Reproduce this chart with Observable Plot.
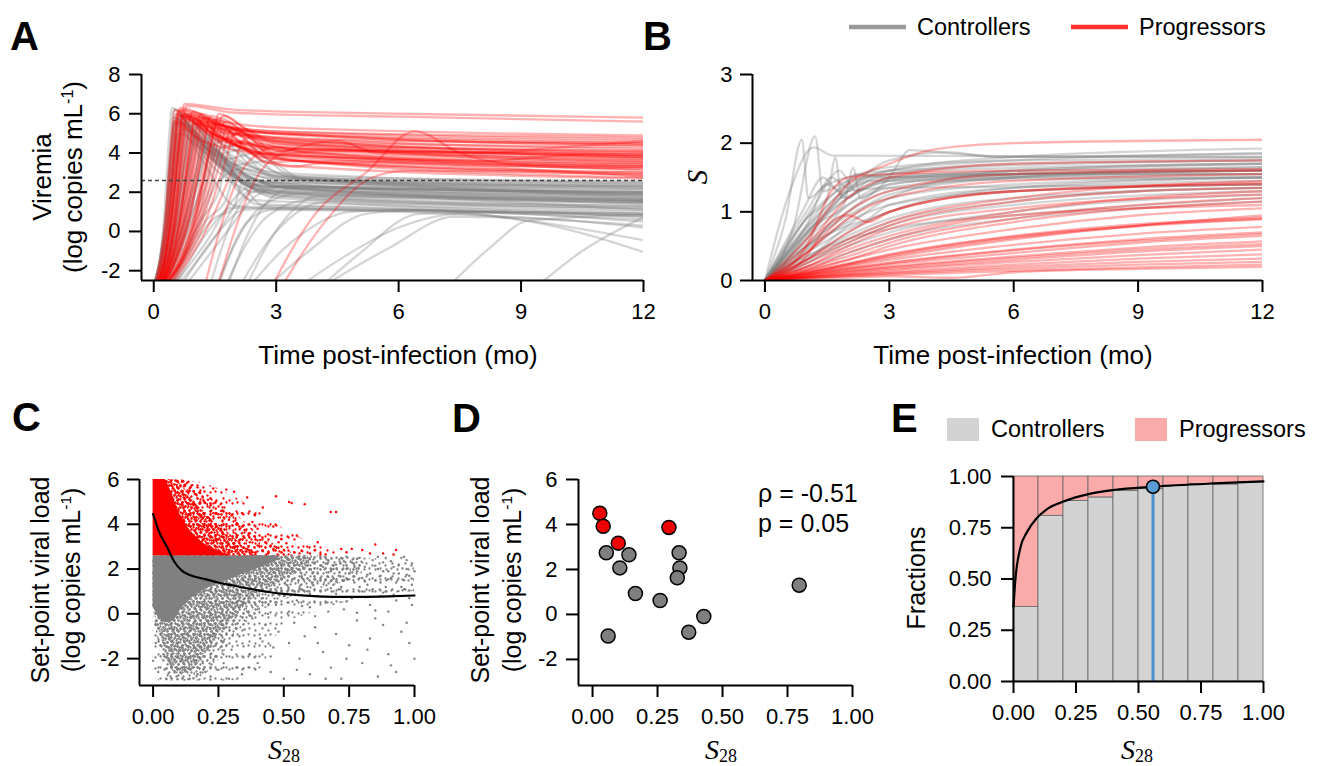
<!DOCTYPE html>
<html><head><meta charset="utf-8">
<script src="https://cdn.jsdelivr.net/npm/d3@7"></script>
<script src="https://cdn.jsdelivr.net/npm/@observablehq/plot@0.6"></script>
<style>
body{margin:0;background:#fff;}
#root{position:relative;width:1325px;height:766px;overflow:hidden;background:#fff;}
.panel{position:absolute;}
</style></head><body><div id="root"></div>
<script>
// ---------------- DATA ----------------
const timeTicks = [0, 3, 6, 9, 12];
const viremiaTicks = [-2, 0, 2, 4, 6, 8];
const sTicks = [0, 1, 2, 3];
const s28Ticks = [0, 0.25, 0.5, 0.75, 1];
const spvlTicks = [-2, 0, 2, 4, 6];
const fracTicks = [0, 0.25, 0.5, 0.75, 1];
const threshold = 2.6;

// Panel A: viremia trajectories, knots "time value"
const viremiaProgressors = [
"0.15 -2.7, 0.48 0.6, 0.66 5.1, 0.75 6.5, 2 6.2, 6 6.0, 12 5.8",
"0.2 -2.7, 0.53 0.6, 0.71 5.0, 0.8 6.4, 2 6.05, 6 5.85, 12 5.6",
"0.1 -2.7, 0.4 0.6, 0.57 4.9, 0.65 6.3, 1.5 5.7, 3 5.3, 12 4.9",
"0.1 -2.7, 0.38 0.6, 0.53 4.8, 0.6 6.2, 1.5 5.5, 3 5.1, 12 4.7",
"0.05 -2.7, 0.33 0.6, 0.48 4.6, 0.55 6.0, 1.4 5.3, 3 5.0, 12 4.6",
"0.15 -2.7, 0.54 0.6, 0.75 4.6, 0.85 6.0, 1.7 5.4, 3 5.0, 12 4.5",
"0.15 -2.7, 0.56 0.6, 0.79 4.5, 0.9 5.9, 2 5.2, 4 4.9, 12 4.4",
"0.2 -2.7, 0.64 0.6, 0.88 4.4, 1.0 5.8, 2 5.0, 4 4.7, 12 4.2",
"0.1 -2.7, 0.43 0.6, 0.61 4.5, 0.7 5.9, 1.6 5.1, 3 4.7, 12 4.0",
"0.2 -2.7, 0.75 0.6, 1.05 4.4, 1.2 5.8, 2.2 5.0, 4 4.6, 12 3.9",
"0.25 -2.7, 0.88 0.6, 1.23 4.5, 1.4 5.9, 2 5.2, 3 4.6, 12 3.8",
"0.3 -2.7, 1.02 0.6, 1.41 4.6, 1.6 6.0, 2.2 5.3, 2.8 4.7, 4 4.4, 12 3.6",
"0.3 -2.7, 1.07 0.6, 1.49 4.5, 1.7 5.9, 2.4 5.0, 3 4.5, 12 3.5",
"0.05 -2.7, 0.35 0.6, 0.52 4.7, 0.6 6.1, 1.3 5.0, 2.5 4.2, 12 3.4",
"0.1 -2.7, 0.46 0.6, 0.65 4.6, 0.75 6.0, 1.6 4.8, 2.8 4.0, 12 3.3",
"0.2 -2.7, 0.7 0.6, 0.97 4.2, 1.1 5.6, 1.8 4.6, 3 3.9, 12 3.2",
"0.25 -2.7, 0.83 0.6, 1.14 4.1, 1.3 5.5, 2 4.4, 2.6 3.8, 3.5 3.6, 12 3.0",
"0.35 -2.7, 1.15 0.6, 1.58 3.9, 1.8 5.3, 2.6 4.0, 3.5 3.6, 12 2.9",
"0.4 -2.7, 1.28 0.6, 1.76 3.6, 2.0 5.0, 2.7 3.8, 3.4 3.3, 4.2 3.5, 12 2.8",
"0.3 -2.7, 0.96 0.6, 1.32 4.3, 1.5 5.7, 2.1 4.6, 2.8 3.5, 3.5 3.6, 12 3.1",
"0.2 -2.7, 0.64 0.6, 0.88 4.4, 1.0 5.8, 1.6 4.6, 2.2 5.1, 2.8 4.0, 3.5 4.2, 12 3.7",
"0.25 -2.7, 0.77 0.6, 1.06 4.3, 1.2 5.7, 1.8 4.3, 2.4 4.8, 3.0 3.9, 4 4.1, 12 4.0",
"1.1 -4, 2.3 3.5, 3.0 4.3, 3.8 4.0, 12 3.6",
"1.4 -4, 2.6 3.0, 3.4 4.2, 4.5 4.6, 5.5 4.0, 12 3.8",
"2.6 -4, 4.0 1.0, 5.2 3.0, 6.4 5.1, 7.5 4.0, 9 3.4, 12 3.3",
"2.8 -4, 4.2 0.5, 5.3 2.7, 6.2 3.1, 12 2.9",
"0.1 -2.7, 0.38 0.6, 0.53 4.5, 0.6 5.9, 1.4 5.0, 3 4.4, 12 4.1",
"0.15 -2.7, 0.51 0.6, 0.7 4.3, 0.8 5.7, 1.5 4.9, 3 4.3, 12 3.9",
"0.1 -2.7, 0.43 0.6, 0.61 4.4, 0.7 5.8, 1.7 4.7, 3 4.2, 12 3.7",
"0.15 -2.7, 0.59 0.6, 0.83 4.7, 0.95 6.1, 1.8 5.1, 3 4.6, 12 4.3",
"0.3 -2.7, 1.02 0.6, 1.41 4.4, 1.6 5.8, 2.3 4.9, 3 4.5, 12 4.1",
"0.05 -2.7, 0.3 0.6, 0.43 4.2, 0.5 5.6, 1.2 4.6, 3 3.9, 12 3.4",
"0.2 -2.7, 0.64 0.6, 0.88 4.1, 1.0 5.5, 2.0 4.4, 3 3.8, 12 3.2",
"0.25 -2.7, 0.86 0.6, 1.19 4.0, 1.35 5.4, 2.2 4.2, 3 3.7, 12 3.0",
"0.2 -2.7, 0.72 0.6, 1.01 4.6, 1.15 6.0, 2.0 5.0, 3.5 4.7, 12 4.5",
"0.1 -2.7, 0.43 0.6, 0.61 4.8, 0.7 6.2, 1.8 5.3, 3.5 4.9, 12 4.4",
"0.3 -2.7, 1.1 0.6, 1.53 4.2, 1.75 5.6, 2.5 4.6, 3.5 4.2, 12 3.9",
"0.2 -2.7, 0.67 0.6, 0.92 4.3, 1.05 5.7, 1.9 4.5, 3 3.9, 12 3.5",
"0.35 -2.7, 1.2 0.6, 1.67 3.8, 1.9 5.2, 2.7 4.3, 3.8 3.9, 12 3.3",
"0.02 -2.7, 0.28 0.6, 0.43 4.8, 0.5 6.2, 1.2 5.6, 3 5.1, 12 4.8",
"0.45 -2.7, 1.41 0.6, 1.94 3.2, 2.2 4.6, 3.0 3.8, 4 3.5, 12 2.75",
"0.3 -2.7, 0.99 0.6, 1.36 4.1, 1.55 5.5, 2.3 4.1, 3 3.4, 12 2.7",
"0.15 -2.7, 0.51 0.6, 0.7 4.5, 0.8 5.9, 1.6 4.8, 3 4.3, 8 4.0, 10 4.3, 12 4.6",
"0.25 -2.7, 0.8 0.6, 1.1 4.2, 1.25 5.6, 2.2 4.5, 4 4.0, 8 3.6, 10.5 3.9, 12 3.8"
];
const viremiaControllers = [
"0 -2.7, 0.25 0.6, 0.38 4.9, 0.45 6.3, 1.0 5.0, 2 3.6, 3 3.0, 12 2.45",
"0 -2.7, 0.28 0.6, 0.43 4.8, 0.5 6.2, 1.1 4.7, 2 3.2, 3 2.7, 12 2.3",
"0.02 -2.7, 0.31 0.6, 0.47 4.6, 0.55 6.0, 1.2 4.4, 2.2 2.9, 3 2.5, 12 2.15",
"0 -2.7, 0.28 0.6, 0.43 4.4, 0.5 5.8, 1.3 3.9, 2.5 2.4, 3 2.3, 12 2.0",
"0.05 -2.7, 0.35 0.6, 0.52 4.2, 0.6 5.6, 1.4 3.7, 2.5 2.2, 3 2.1, 12 1.85",
"0.05 -2.7, 0.38 0.6, 0.56 4.5, 0.65 5.9, 1.4 4.6, 2.4 3.3, 3.2 2.7, 12 2.25",
"0.08 -2.7, 0.42 0.6, 0.61 4.1, 0.7 5.5, 1.5 3.6, 2.6 2.1, 3 2.0, 12 1.7",
"0.1 -2.7, 0.49 0.6, 0.7 4.0, 0.8 5.4, 1.6 3.4, 2.8 2.0, 12 1.55",
"0.1 -2.7, 0.54 0.6, 0.78 3.8, 0.9 5.2, 1.7 3.3, 3 1.9, 12 1.45",
"0.12 -2.7, 0.6 0.6, 0.87 3.6, 1.0 5.0, 1.8 3.1, 3 1.8, 12 1.3",
"0.15 -2.7, 0.67 0.6, 0.96 3.4, 1.1 4.8, 2.0 2.9, 3.2 1.8, 12 1.2",
"0.2 -2.7, 0.75 0.6, 1.05 3.2, 1.2 4.6, 2.1 2.7, 3.3 2.0, 12 1.6",
"0.25 -2.7, 0.83 0.6, 1.14 3.0, 1.3 4.4, 2.2 2.8, 3.5 2.3, 12 2.0",
"0.03 -2.7, 0.32 0.6, 0.47 4.3, 0.55 5.7, 1.2 4.2, 1.7 4.6, 2.3 3.5, 3.0 2.8, 12 2.35",
"0.05 -2.7, 0.35 0.6, 0.52 4.4, 0.6 5.8, 1.3 4.0, 1.9 4.4, 2.6 3.2, 3.5 2.7, 12 2.5",
"0.08 -2.7, 0.45 0.6, 0.65 4.2, 0.75 5.6, 1.5 3.9, 2.2 4.2, 3.0 3.0, 4 2.6, 12 2.2",
"0.1 -2.7, 0.54 0.6, 0.78 4.0, 0.9 5.4, 1.8 3.7, 2.5 4.0, 3.3 2.9, 4.2 2.7, 12 1.95",
"0.15 -2.7, 0.65 0.6, 0.92 3.9, 1.05 5.3, 2.0 3.4, 2.8 3.6, 3.6 2.7, 12 1.9",
"0.3 -2.7, 0.91 0.6, 1.24 2.8, 1.4 4.2, 2.3 2.4, 3.5 2.2, 12 1.6",
"0.35 -2.7, 1.04 0.6, 1.41 2.4, 1.6 3.8, 2.6 2.3, 4 2.1, 12 1.4",
"0.4 -2.7, 1.17 0.6, 1.59 2.0, 1.8 3.4, 2.8 2.1, 4 2.0, 12 1.1",
"0.45 -2.7, 1.3 0.6, 1.77 1.6, 2.0 3.0, 3.0 2.3, 12 1.9",
"0.5 -2.7, 1.44 0.6, 1.95 1.2, 2.2 2.6, 3.0 2.45, 12 1.8",
"0.2 -2.7, 0.78 0.6, 1.09 2.9, 1.25 4.3, 2.0 2.9, 3 2.5, 12 2.3",
"0.15 -2.7, 0.62 0.6, 0.87 3.4, 1.0 4.8, 1.6 3.3, 2.4 1.6, 3.5 1.5, 12 1.0",
"0.2 -2.7, 0.75 0.6, 1.05 3.1, 1.2 4.5, 1.8 3.0, 2.5 1.4, 4 1.3, 12 0.8",
"0.3 -2.7, 0.96 0.6, 1.32 2.6, 1.5 4.0, 2.1 2.6, 2.7 1.3, 5 1.2, 12 0.6",
"0.25 -2.7, 0.88 0.6, 1.23 2.7, 1.4 4.1, 2.2 2.5, 3.0 1.7, 12 1.2",
"1.3 -4, 2.6 1.2, 3.5 1.9, 4.5 1.7, 12 1.3",
"1.5 -4, 2.8 0.8, 3.8 1.6, 5 1.5, 12 1.1",
"1.8 -4, 3.0 0.0, 4.2 1.5, 5 1.4, 12 0.9",
"1.9 -4, 3.4 -0.5, 4.8 1.0, 6 1.1, 12 0.5",
"2.2 -4, 3.8 -1.0, 5.2 0.9, 6.5 1.1, 9 0.6, 12 -0.45",
"2.8 -4, 4.5 -1.5, 6 0.2, 7.5 0.9, 9.5 0.4, 12 -1.05",
"3.6 -3.5, 5.8 -0.8, 7.35 0.75, 9 0.7, 12 0.2",
"6.9 -3.5, 8.2 -0.9, 9.2 0.56, 12 0.85",
"9.0 -3.5, 10.5 -1.0, 12 0.73",
"2.0 -4, 3.2 0.6, 4.0 1.8, 12 1.5",
"1.6 -4, 2.7 1.3, 3.4 2.2, 12 1.9",
"0.03 -2.7, 0.34 0.6, 0.51 4.5, 0.6 5.9, 1.2 4.4, 2 3.4, 3 2.85, 12 2.55",
"0.1 -2.7, 0.51 0.6, 0.74 4.2, 0.85 5.6, 1.5 4.2, 2.5 2.9, 3 2.6, 12 2.4",
"0.08 -2.7, 0.42 0.6, 0.61 3.8, 0.7 5.2, 1.5 3.7, 2.5 2.4, 12 2.0",
"0.05 -2.7, 0.35 0.6, 0.52 3.6, 0.6 5.0, 1.6 3.0, 2.5 2.0, 12 1.5",
"0.12 -2.7, 0.58 0.6, 0.83 4.1, 0.95 5.5, 1.8 3.6, 3 2.3, 12 1.6",
"0.25 -2.7, 0.86 0.6, 1.19 3.5, 1.35 4.9, 2.2 3.0, 3.3 2.2, 12 1.5",
"1.2 -4, 2.4 2.0, 3.2 2.3, 12 1.7",
"0.08 -2.7, 0.42 0.6, 0.61 4.6, 0.7 6.0, 1.4 4.8, 2.2 3.9, 3 3.0, 4 2.6, 12 2.1",
"3.5 -4, 5.0 -1.2, 6.5 0.9, 9 1.0, 12 0.7",
"0.03 -2.7, 0.29 0.6, 0.43 4.1, 0.5 5.5, 1.2 3.6, 2.0 1.3, 3 1.2, 12 0.9",
"1.4 -4, 2.3 0.5, 2.9 1.1, 6 1.0, 12 0.3",
"0.5 -2.7, 1.3 -0.5, 1.9 1.5, 2.4 2.3, 3.5 2.2, 12 1.6",
"0.6 -2.7, 1.5 -0.3, 2.1 1.6, 2.7 2.5, 4 2.3, 12 1.7",
"0.7 -2.7, 1.6 0.0, 2.2 1.1, 3 1.15, 6 1.05, 12 0.8",
"0.55 -2.7, 1.4 0.2, 1.9 1.2, 2.6 1.2, 6 1.1, 12 0.9",
"0.8 -2.7, 1.8 0.0, 2.5 1.8, 3.2 2.3, 12 1.8",
"0.45 -2.7, 1.1 0.4, 1.6 2.6, 2.2 3.2, 3.2 2.6, 12 2.0"
];

// Panel B: S trajectories
const sControllers = [
"0 0, 0.5 0.9, 0.89 2.05, 1.05 1.2, 1.5 1.4, 3 1.6, 12 1.75",
"0 0, 0.7 0.8, 1.21 2.1, 1.4 1.3, 2 1.45, 4 1.6, 12 1.7",
"0 0, 0.6 1.3, 1.17 1.94, 1.65 1.82, 12 1.8",
"0.1 0, 1.0 0.9, 1.5 1.2, 1.7 1.79, 1.85 1.2, 2.5 1.4, 4 1.55, 12 1.65",
"0.2 0, 1.2 0.8, 1.9 1.1, 2.13 1.64, 2.3 1.2, 3 1.4, 5 1.5, 12 1.6",
"0 0, 1 0.9, 2 1.4, 3 1.6, 6 1.75, 12 1.85",
"0 0, 1 0.7, 2 1.2, 3 1.45, 6 1.6, 12 1.7",
"0 0, 1 0.6, 2 1.1, 3 1.35, 6 1.5, 12 1.6",
"0 0, 1 0.5, 2 0.95, 3 1.2, 6 1.4, 12 1.5",
"0 0, 1 0.45, 2 0.85, 3 1.1, 6 1.35, 12 1.45",
"0 0, 1 0.4, 2 0.75, 3 1.0, 6 1.3, 12 1.4",
"0 0, 1 0.35, 2 0.65, 3 0.9, 6 1.2, 12 1.35",
"0 0, 1 0.3, 2 0.55, 3 0.8, 6 1.1, 12 1.3",
"0 0, 1 0.25, 2 0.5, 3 0.7, 6 1.0, 12 1.25",
"0 0, 1 0.2, 2 0.4, 3 0.6, 6 0.9, 9 1.05, 12 1.15",
"0 0, 1 0.35, 2 0.6, 3 0.75, 6 0.95, 12 1.2",
"0 0, 1.2 1.1, 1.8 1.6, 2.2 1.3, 3 1.5, 12 1.6",
"0 0, 1 0.8, 1.6 1.5, 2 1.35, 2.5 1.5, 3.5 1.55, 12 1.55",
"0 0, 1 1.0, 1.5 1.4, 2 1.2, 2.5 1.45, 12 1.5",
"0 0, 2 1.0, 3 1.5, 3.5 1.9, 4.5 1.85, 6 1.8, 12 1.8",
"0 0, 1.5 1.0, 3 1.75, 4.4 1.87, 5.5 1.8, 12 1.85",
"0 0, 1 0.7, 2 1.3, 3 1.55, 6 1.7, 12 1.75",
"0 0, 1 0.55, 2 1.0, 3 1.3, 6 1.5, 12 1.55",
"0 0, 1 0.5, 2 0.8, 2.5 0.9, 3 1.1, 6 1.3, 12 1.4",
"0 0, 1 0.65, 2 1.2, 3 1.45, 6 1.55, 12 1.6",
"0 0, 1 0.4, 2 0.9, 3 1.25, 6 1.5, 12 1.65",
"0 0, 1 0.3, 2 0.7, 3 1.0, 6 1.35, 12 1.5",
"0 0, 1 0.45, 2 1.1, 3 1.4, 6 1.55, 12 1.62",
"0 0, 1 0.8, 2 1.45, 3 1.65, 6 1.75, 12 1.78",
"0 0, 1 0.6, 2 1.3, 3 1.5, 6 1.55, 12 1.55",
"0 0, 1 0.25, 2 0.6, 3 0.85, 6 1.15, 9 1.3, 12 1.35",
"0 0, 1 0.3, 2 0.8, 3 1.2, 6 1.6, 12 1.7",
"0 0, 1.2 0.9, 2 1.3, 3 1.35, 12 1.4",
"0 0, 0.9 1.0, 1.4 1.5, 1.8 1.3, 2.2 1.55, 3 1.5, 12 1.5",
"0 0, 1 0.75, 2 1.35, 3 1.6, 6 1.8, 12 1.92"
];
const sProgressors = [
"0 0, 1 0.6, 2 1.4, 3 1.7, 4 1.9, 6 2.0, 12 2.05",
"0 0, 1 0.5, 2 1.2, 3 1.5, 6 1.7, 12 1.75",
"0 0, 1 0.4, 2 0.9, 3 1.2, 6 1.45, 12 1.55",
"0 0, 1 0.3, 2 0.6, 3 0.85, 6 1.2, 12 1.45",
"0 0, 1 0.2, 2 0.45, 3 0.65, 6 1.0, 9 1.2, 12 1.3",
"0 0, 1 0.18, 2 0.35, 3 0.55, 6 0.9, 9 1.1, 12 1.2",
"0 0, 1 0.15, 2 0.3, 3 0.45, 6 0.75, 9 0.95, 12 1.05",
"0 0, 1 0.12, 2 0.25, 3 0.38, 6 0.65, 9 0.82, 12 0.92",
"0 0, 1 0.12, 2 0.24, 3 0.37, 6 0.64, 9 0.8, 12 0.9",
"0 0, 1 0.1, 2 0.2, 3 0.3, 6 0.52, 9 0.68, 12 0.78",
"0 0, 1 0.09, 2 0.18, 3 0.26, 6 0.45, 9 0.6, 12 0.7",
"0 0, 1 0.08, 2 0.16, 3 0.23, 6 0.4, 9 0.55, 12 0.65",
"0 0, 1 0.07, 2 0.14, 3 0.2, 6 0.35, 9 0.48, 12 0.57",
"0 0, 1 0.06, 2 0.12, 3 0.17, 6 0.3, 9 0.42, 12 0.5",
"0 0, 1 0.05, 2 0.1, 3 0.15, 6 0.27, 9 0.37, 12 0.45",
"0 0, 1 0.05, 2 0.09, 3 0.13, 6 0.23, 9 0.32, 12 0.38",
"0 0, 1 0.04, 2 0.08, 3 0.11, 6 0.2, 9 0.27, 12 0.32",
"0 0, 1 0.04, 2 0.07, 3 0.1, 6 0.17, 9 0.23, 12 0.27",
"0 0, 1 0.03, 2 0.06, 3 0.08, 6 0.14, 9 0.19, 12 0.23",
"0 0, 1 0.02, 2 0.04, 3 0.06, 4.5 0.04, 6 0.12, 9 0.17, 12 0.2",
"0 0, 1 0.35, 1.5 0.8, 2 0.95, 2.5 0.85, 3 1.0, 6 1.3, 12 1.4",
"0 0, 1 0.5, 1.6 1.3, 2 1.5, 3 1.55, 6 1.6, 12 1.62",
"0 0, 1 0.25, 2 0.55, 3 0.8, 6 1.15, 9 1.3, 12 1.35",
"0 0, 1 0.2, 2 0.5, 3 0.75, 6 1.05, 12 1.25",
"0 0, 1 0.14, 2 0.3, 3 0.5, 6 0.85, 9 1.05, 12 1.15",
"0 0, 1 0.3, 2 0.7, 3 1.0, 6 1.3, 12 1.42",
"0 0, 1 0.1, 2 0.22, 3 0.33, 6 0.6, 9 0.8, 12 0.95",
"0 0, 1 0.11, 2 0.23, 3 0.35, 6 0.62, 9 0.79, 12 0.89",
"0 0, 1 0.08, 2 0.17, 3 0.25, 6 0.44, 9 0.58, 12 0.68",
"0 0, 1 0.06, 2 0.13, 3 0.19, 6 0.33, 9 0.45, 12 0.53",
"0 0, 1 0.4, 2 1.0, 3 1.3, 6 1.55, 12 1.6",
"0 0, 1 0.15, 2 0.4, 3 0.6, 6 0.95, 12 1.1"
];

// Panel C: simulated set-point viral load vs S28 (density envelopes + sparse points)
const redCoreX = [0, 0.045, 0.06, 0.08, 0.1, 0.13, 0.16, 0.2, 0.25, 0.3];
const redCoreTop = [6, 6, 5.7, 5.1, 4.5, 3.9, 3.5, 3.1, 2.8, 2.62];
const redDenseX = [0.04, 0.08, 0.12, 0.16, 0.2, 0.25, 0.3, 0.35, 0.4];
const redDenseTop = [6, 6, 5.6, 5.0, 4.5, 4.0, 3.5, 3.0, 2.65];
const redMedX = [0.04, 0.1, 0.15, 0.2, 0.25, 0.3, 0.35, 0.4, 0.45, 0.5, 0.55];
const redMedTop = [6, 6, 5.8, 5.4, 5.0, 4.6, 4.1, 3.6, 3.2, 2.9, 2.65];
const redSparseX = [0.08, 0.2, 0.3, 0.4, 0.5, 0.6, 0.7];
const redSparseTop = [6, 5.8, 5.3, 4.6, 3.8, 3.2, 2.8];
const grayCoreX = [0, 0.02, 0.05, 0.08, 0.1, 0.13, 0.17, 0.22, 0.28, 0.35, 0.42, 0.48];
const grayCoreLow = [0.3, -0.1, -0.4, -0.3, 0.1, 0.5, 0.9, 1.2, 1.5, 1.8, 2.1, 2.4];
const grayDenseX = [0, 0.03, 0.06, 0.1, 0.15, 0.2, 0.3, 0.4, 0.5, 0.6];
const grayDenseLow = [0.2, -1.0, -2.3, -2.7, -2.5, -1.8, -0.3, 0.8, 1.5, 2.1];
const grayMedX = [0, 0.03, 0.06, 0.1, 0.15, 0.2, 0.25, 0.3, 0.4, 0.5, 0.6, 0.7, 0.8];
const grayMedLow = [0.1, -1.8, -2.9, -3.0, -2.95, -2.7, -2.1, -1.2, 0.0, 0.6, 1.0, 1.3, 1.6];
const grayMedTop = [2.6, 2.6, 2.6, 2.6, 2.6, 2.6, 2.6, 2.6, 2.6, 2.6, 2.6, 2.5, 2.4];
const graySparseX = [0, 0.03, 0.06, 0.1, 0.2, 0.3, 0.4, 0.5, 0.6, 0.7, 0.8, 0.9, 1.0];
const graySparseLow = [-2.8, -3.0, -3.0, -3.0, -3.0, -3.0, -2.6, -0.5, 0.0, 0.4, 0.7, 0.9, 1.0];
const graySparseTop = [2.6, 2.6, 2.6, 2.6, 2.6, 2.6, 2.6, 2.6, 2.6, 2.55, 2.5, 2.4, 2.3];
const redDotsC = "0.09 5.95;0.11 5.9;0.13 5.85;0.12 5.7;0.15 5.75;0.17 5.65;0.14 5.5;0.16 5.35;0.18 5.4;0.19 5.2;0.21 5.1;0.2 4.95;0.22 4.85;0.23 5.6;0.24 4.7;0.26 4.6;0.25 4.45;0.27 4.3;0.28 5.55;0.29 4.2;0.3 4.4;0.31 5.45;0.32 4.05;0.33 3.9;0.34 4.5;0.35 3.75;0.36 5.2;0.37 3.6;0.38 4.1;0.39 3.45;0.4 3.8;0.41 3.3;0.42 4.75;0.43 3.2;0.44 3.55;0.45 3.05;0.46 3.9;0.47 5.25;0.48 2.95;0.49 3.35;0.5 2.85;0.52 5.0;0.53 4.95;0.51 3.15;0.54 2.75;0.55 3.5;0.56 2.7;0.58 4.9;0.59 3.0;0.6 2.7;0.62 2.85;0.64 2.65;0.66 2.65;0.68 4.55;0.7 4.55;0.72 2.9;0.74 2.75;0.76 2.9;0.8 2.85;0.83 2.7;0.85 3.1;0.88 2.7;0.92 2.65;0.93 2.85;0.27 3.55;0.33 3.3;0.29 3.1;0.36 2.9;0.38 2.75;0.42 2.8;0.44 2.7;0.46 2.9;0.24 3.3;0.21 3.9;0.19 4.3;0.17 4.7;0.13 5.2;0.11 5.5;0.26 3.8;0.31 3.0;0.35 3.4;0.4 3.05;0.5 2.65;0.48 3.2;0.57 2.8;0.63 3.2;0.39 4.4;0.34 3.6;0.22 4.2;0.18 5.0;0.15 4.9;0.23 4.5;0.28 3.9;0.32 3.5;0.37 3.2";
const grayDotsC = "0.52 2.4;0.54 1.9;0.55 2.2;0.57 1.6;0.58 2.5;0.6 2.0;0.61 1.4;0.62 2.3;0.63 1.8;0.65 2.1;0.66 1.5;0.67 2.4;0.68 1.9;0.69 1.3;0.7 2.2;0.71 1.7;0.72 2.5;0.73 1.5;0.74 2.0;0.75 1.8;0.76 2.3;0.77 1.4;0.78 1.9;0.79 2.5;0.8 1.6;0.81 2.1;0.82 1.3;0.83 1.8;0.84 2.4;0.85 1.5;0.86 2.0;0.87 1.7;0.88 2.3;0.89 1.2;0.9 1.9;0.91 1.6;0.92 2.1;0.93 1.4;0.94 1.8;0.95 2.5;0.96 1.5;0.97 2.0;0.98 1.7;0.99 1.3;1.0 1.9;0.64 2.55;0.59 1.2;0.72 1.2;0.86 2.55;0.97 2.4;"
 + "0.46 2.5;0.47 1.7;0.49 2.2;0.51 1.3;0.53 2.0;0.56 1.1;0.58 1.75;0.6 2.45;0.62 1.55;0.64 1.05;0.66 2.25;0.67 1.65;0.69 2.0;0.71 1.1;0.73 2.35;0.75 1.55;0.77 2.1;0.79 1.2;0.8 2.3;0.82 1.75;0.84 1.1;0.85 2.15;0.87 1.4;0.89 2.5;0.9 1.55;0.92 1.8;0.94 2.2;0.95 1.2;0.97 1.75;0.99 2.25;0.53 2.55;0.61 1.85;0.7 1.45;0.78 2.45;0.88 1.9;0.96 2.55;0.74 2.55;0.81 1.45;0.91 2.35;0.98 1.05;"
 + "0.32 0.9;0.35 0.5;0.38 1.0;0.4 0.2;0.42 0.7;0.45 1.1;0.47 0.4;0.5 0.8;0.52 0.1;0.55 0.6;0.58 1.0;0.6 0.3;0.63 0.8;0.66 0.5;0.7 0.9;0.73 0.2;0.76 0.7;0.8 1.0;0.83 0.4;0.87 0.8;0.9 0.1;0.93 0.6;0.96 1.1;0.99 0.4;0.44 0.0;0.57 0.35;0.68 1.15;0.78 0.05;0.88 0.95;0.62 -0.1;0.36 0.1;0.49 1.15;0.6 0.9;0.67 0.1;0.74 0.55;0.81 0.75;0.85 0.15;0.92 0.85;0.98 0.7;"
 + "0.22 -2.8;0.24 -1.9;0.25 -2.5;0.26 -1.2;0.27 -2.2;0.28 -0.6;0.29 -2.9;0.3 -1.6;0.31 -0.3;0.32 -2.4;0.33 -1.0;0.34 -2.7;0.35 -0.7;0.37 -1.8;0.38 -0.2;0.4 -2.2;0.41 -1.1;0.43 -0.5;0.45 -2.6;0.46 -1.5;0.48 -0.8;0.5 -2.9;0.52 -1.3;0.54 -0.4;0.56 -2.0;0.58 -1.0;0.6 -2.7;0.62 -0.6;0.65 -1.7;0.68 -2.4;0.7 -0.9;0.72 -2.9;0.75 -1.4;0.78 -0.3;0.8 -2.2;0.83 -1.1;0.86 -2.8;0.88 -0.5;0.9 -1.8;0.93 -2.6;0.95 -0.8;0.98 -1.3;1.0 -2.0;0.21 -1.5;0.23 -0.9;0.45 -1.9;0.55 -2.5;0.63 -1.3;0.66 -2.9;0.74 -2.0;0.82 -1.6;0.85 -0.2;0.91 -2.3;0.97 -0.4;"
 + "0.01 -0.5;0.01 -1.3;0.0 -2.1;0.02 -2.6;0.01 0.3;0.04 -1.8;0.05 -2.9;0.06 -1.1;0.07 -2.3;0.08 -0.7;0.09 -2.8;0.1 -1.6;0.11 -0.4;0.12 -2.5;0.13 -1.2;0.14 -2.9;0.15 -0.1;0.16 -1.9;0.17 -2.7;0.18 -0.9;0.19 -2.2;0.2 0.3;0.21 -0.3;0.22 -1.0;0.24 0.6;0.26 0.0;0.28 0.9;0.3 0.3;0.33 0.6;0.03 -0.9;0.06 -2.0;0.09 -1.3;0.12 -0.9;0.15 -2.4;0.18 -1.5;0.2 -2.6;0.11 -2.0;0.14 -0.6;0.07 -1.6;0.17 0.5";
const fitC_x = [0, 0.02, 0.054, 0.08, 0.11, 0.14, 0.2, 0.245, 0.3, 0.37, 0.5, 0.6, 0.69, 0.8, 0.9, 1.0];
const fitC_y = [4.46, 3.75, 2.97, 2.35, 1.93, 1.74, 1.55, 1.41, 1.28, 1.12, 0.89, 0.8, 0.76, 0.76, 0.78, 0.82];

// Panel D: patients
const patientS28 = [0.028, 0.041, 0.099, 0.294, 0.053, 0.14, 0.105, 0.165, 0.26, 0.333, 0.336, 0.326, 0.37, 0.428, 0.06, 0.795];
const patientSPVL = [4.5, 3.92, 3.17, 3.87, 2.74, 2.65, 2.07, 0.93, 0.62, 2.74, 2.07, 1.63, -0.79, -0.09, -0.96, 1.3];
const patientGroup = ["P","P","P","P","C","C","C","C","C","C","C","C","C","C","C","C"];

// Panel E: fractions per S28 bin
const binLo = [0, 0.1, 0.2, 0.3, 0.4, 0.5, 0.6, 0.7, 0.8, 0.9];
const binHi = [0.1, 0.2, 0.3, 0.4, 0.5, 0.6, 0.7, 0.8, 0.9, 1.0];
const controllerFraction = [0.364, 0.808, 0.881, 0.897, 0.93, 0.938, 0.955, 0.963, 0.96, 0.971];
const fitE_x = [0, 0.007, 0.027, 0.053, 0.093, 0.133, 0.2, 0.3, 0.4, 0.558, 0.8, 1.0];
const fitE_y = [0.365, 0.49, 0.65, 0.727, 0.797, 0.84, 0.878, 0.914, 0.934, 0.95, 0.966, 0.976];
const markS28 = 0.558, markFrac = 0.95;

// ---------------- HELPERS ----------------
const FONT = "'Liberation Sans', Arial, Helvetica, sans-serif";
const SERIF = "'Liberation Serif', 'Times New Roman', serif";
const root = document.getElementById("root");
function knotsToRows(list, group) {
  const rows = [];
  list.forEach((s, i) => s.split(",").forEach(p => {
    const [t, v] = p.trim().split(/\s+/).map(Number);
    rows.push({id: group + i, group, t, v});
  }));
  return rows;
}
function dotsToRows(str) {
  return str.split(";").filter(d => d.trim()).map(d => { const [x, y] = d.trim().split(/\s+/).map(Number); return {x, y}; });
}
function band(xs, lows, highs) {
  return xs.map((x, i) => ({x, lo: Array.isArray(lows) ? lows[i] : lows, hi: Array.isArray(highs) ? highs[i] : highs}));
}
function place(svg, left, top, w) {
  const d = document.createElement("div");
  d.className = "panel"; d.style.left = left + "px"; d.style.top = top + "px"; d.style.width = w + "px";
  d.appendChild(svg); root.appendChild(d);
}
const style = {fontSize: "22px", fontFamily: FONT, color: "#000", background: "transparent", overflow: "visible"};
const intFmt = d => String(d);
const f2 = d3.format(".2f");
function axes(xTicks, yTicks, xd, yd, fmt, xPad, yPad) {
  return [
    Plot.ruleX([xd[0]], {stroke: "#000", strokeWidth: 2}),
    Plot.ruleY([yd[0]], {stroke: "#000", strokeWidth: 2}),
    Plot.axisY({ticks: yTicks, tickSize: 12, tickPadding: yPad, tickFormat: fmt.y, strokeWidth: 2, fontSize: 22, label: null}),
    Plot.axisX({ticks: xTicks, tickSize: 12, tickPadding: xPad, tickFormat: fmt.x, strokeWidth: 2, fontSize: 22, label: null})
  ];
}
// stipple texture (styling only) for the dense point clouds of panel C
const tile11 = [[1,2],[6,1],[9,5],[4,6],[2,9],[8,9],[6,4],[10,1],[3,3],[7,7],[0,6],[5,9]];
const tile13 = [[2,1],[8,3],[12,7],[5,6],[1,10],[9,11],[7,0],[3,4],[11,2],[6,9],[0,7],[10,5]];
function stippleDefs() {
  const defs = d3.create("svg:defs");
  const levels = {sparse: 2, med: 5, dense: 11};
  for (const [color, key] of [["#808080", "g"], ["#ff0000", "r"]]) {
    for (const [lvl, n] of Object.entries(levels)) {
      for (const [size, pts] of [[11, tile11], [13, tile13]]) {
        const p = defs.append("pattern").attr("id", `st-${key}-${lvl}-${size}`).attr("patternUnits", "userSpaceOnUse")
          .attr("width", size).attr("height", size);
        pts.slice(0, n).forEach(([cx, cy]) => p.append("circle").attr("cx", cx + 0.5).attr("cy", cy + 0.5).attr("r", 1.15).attr("fill", color));
      }
    }
  }
  return defs.node();
}
function stippled(data, key, lvl) {
  const o = {x: "x", y1: "lo", y2: "hi", curve: "monotone-x"};
  return [Plot.areaY(data, {...o, fill: `url(#st-${key}-${lvl}-11)`}), Plot.areaY(data, {...o, fill: `url(#st-${key}-${lvl}-13)`})];
}

// ---------------- PANEL A ----------------
const rowsAC = knotsToRows(viremiaControllers, "c");
const rowsAP = knotsToRows(viremiaProgressors, "p");
const xA = [-0.3, 12], yA = [-2.5, 8];
place(Plot.plot({
  width: 680, height: 380, marginLeft: 141, marginRight: 37, marginTop: 74, marginBottom: 100,
  style, x: {domain: xA}, y: {domain: yA},
  marks: [
    Plot.line(rowsAC, {x: "t", y: "v", z: "id", stroke: "#808080", strokeOpacity: 0.33, strokeWidth: 2.3, curve: "monotone-x", clip: true}),
    Plot.line(rowsAP, {x: "t", y: "v", z: "id", stroke: "#ff0000", strokeOpacity: 0.3, strokeWidth: 2.3, curve: "monotone-x", clip: true}),
    Plot.ruleY([threshold], {stroke: "#444", strokeWidth: 1.6, strokeDasharray: "4,3"}),
    ...axes(timeTicks, viremiaTicks, xA, yA, {x: intFmt, y: intFmt}, 11, 9)
  ]
}), 0, 0, 680);

// ---------------- PANEL B ----------------
const rowsBC = knotsToRows(sControllers, "c");
const rowsBP = knotsToRows(sProgressors, "p");
const xB = [-0.3, 12], yB = [0, 3];
place(Plot.plot({
  width: 645, height: 380, marginLeft: 72, marginRight: 63, marginTop: 74, marginBottom: 100,
  style, x: {domain: xB}, y: {domain: yB},
  marks: [
    Plot.line(rowsBC, {x: "t", y: "v", z: "id", stroke: "#808080", strokeOpacity: 0.33, strokeWidth: 2.3, curve: "monotone-x", clip: true}),
    Plot.line(rowsBP, {x: "t", y: "v", z: "id", stroke: "#ff0000", strokeOpacity: 0.3, strokeWidth: 2.3, curve: "monotone-x", clip: true}),
    ...axes(timeTicks, sTicks, xB, yB, {x: intFmt, y: intFmt}, 11, 8)
  ]
}), 680, 0, 645);

// ---------------- PANEL C ----------------
const xC = [-0.052, 1], yC = [-3.2, 6];
const fitC = fitC_x.map((x, i) => ({x, y: fitC_y[i]}));
place(Plot.plot({
  width: 440, height: 386, marginLeft: 139, marginRight: 26, marginTop: 99, marginBottom: 81,
  style, x: {domain: xC}, y: {domain: yC},
  marks: [
    stippleDefs,
    ...stippled(band(graySparseX, graySparseLow, graySparseTop), "g", "sparse"),
    ...stippled(band(grayMedX, grayMedLow, grayMedTop), "g", "med"),
    ...stippled(band(grayDenseX, grayDenseLow, threshold), "g", "dense"),
    Plot.areaY(band(grayCoreX, grayCoreLow, threshold), {x: "x", y1: "lo", y2: "hi", curve: "monotone-x", fill: "#808080"}),
    ...stippled(band(redSparseX, threshold, redSparseTop), "r", "sparse"),
    ...stippled(band(redMedX, threshold, redMedTop), "r", "med"),
    ...stippled(band(redDenseX, threshold, redDenseTop), "r", "dense"),
    Plot.areaY(band(redCoreX, threshold, redCoreTop), {x: "x", y1: "lo", y2: "hi", curve: "monotone-x", fill: "#ff0000"}),
    Plot.dot(dotsToRows(grayDotsC), {x: "x", y: "y", r: 1.2, fill: "#808080"}),
    Plot.dot(dotsToRows(redDotsC), {x: "x", y: "y", r: 1.2, fill: "#ff0000"}),
    Plot.line(fitC, {x: "x", y: "y", stroke: "#000", strokeWidth: 2.2, curve: "monotone-x"}),
    ...axes(s28Ticks, spvlTicks, xC, yC, {x: f2, y: intFmt}, 11, 8)
  ]
}), 0, 380, 440);

// ---------------- PANEL D ----------------
const xD = [-0.054, 1], yD = [-3.16, 6];
const patients = patientS28.map((x, i) => ({x, y: patientSPVL[i], g: patientGroup[i]}));
place(Plot.plot({
  width: 440, height: 386, marginLeft: 138, marginRight: 28, marginTop: 99, marginBottom: 81,
  style, x: {domain: xD}, y: {domain: yD},
  marks: [
    Plot.dot(patients, {x: "x", y: "y", r: 7, fill: d => d.g === "P" ? "#ee0000" : "#7f7f7f", stroke: "#000", strokeWidth: 1.5}),
    ...axes(s28Ticks, spvlTicks, xD, yD, {x: f2, y: intFmt}, 11, 9)
  ]
}), 440, 380, 440);

// ---------------- PANEL E ----------------
const xE = [0, 1], yE = [0, 1];
const binsE = binLo.map((lo, i) => ({lo, hi: binHi[i], frac: controllerFraction[i], base: 0, top: 1}));
const fitE = fitE_x.map((x, i) => ({x, y: fitE_y[i]}));
place(Plot.plot({
  width: 445, height: 386, marginLeft: 133, marginRight: 62, marginTop: 96, marginBottom: 85,
  style, x: {domain: xE}, y: {domain: yE},
  marks: [
    Plot.rect(binsE, {x1: "lo", x2: "hi", y1: "frac", y2: "top", fill: "#fbaaaa", stroke: "#666", strokeWidth: 0.8}),
    Plot.rect(binsE, {x1: "lo", x2: "hi", y1: "base", y2: "frac", fill: "#d3d3d3", stroke: "#666", strokeWidth: 0.8}),
    Plot.line(fitE, {x: "x", y: "y", stroke: "#000", strokeWidth: 2.2, curve: "monotone-x"}),
    Plot.ruleX([{x: markS28, y: markFrac}], {x: "x", y1: 0, y2: "y", stroke: "#4a8fcf", strokeWidth: 3}),
    Plot.dot([{x: markS28, y: markFrac}], {x: "x", y: "y", r: 6.5, fill: "#5b9bd5", stroke: "#000", strokeWidth: 1.5}),
    ...axes(s28Ticks, fracTicks, xE, yE, {x: f2, y: f2}, 11, 10)
  ]
}), 880, 380, 445);

// ---------------- TEXT OVERLAY ----------------
const ov = d3.create("svg").attr("width", 1325).attr("height", 766)
  .style("position", "absolute").style("left", "0px").style("top", "0px")
  .style("pointer-events", "none").attr("font-family", FONT);
function txt(x, y, s, a = {}) { const t = ov.append("text").attr("x", x).attr("y", y).text(s); for (const k in a) t.attr(k, a[k]); return t; }
[["A", 10, 50], ["B", 643, 50], ["C", 12, 431], ["D", 452, 432], ["E", 891, 432]]
  .forEach(([s, x, y]) => txt(x, y, s, {"font-size": 40, "font-weight": "bold"}));
txt(398, 364, "Time post-infection (mo)", {"font-size": 26, "text-anchor": "middle"});
txt(1013, 364, "Time post-infection (mo)", {"font-size": 26, "text-anchor": "middle"});
function ytitle(x, y, s, size) {
  return ov.append("text").attr("transform", `translate(${x},${y}) rotate(-90)`).attr("text-anchor", "middle").attr("font-size", size).text(s);
}
function ytitleUnits(x, y, size) {
  const t = ov.append("text").attr("transform", `translate(${x},${y}) rotate(-90)`).attr("text-anchor", "middle").attr("font-size", size);
  t.append("tspan").text("(log copies mL");
  t.append("tspan").attr("dy", -9).attr("font-size", size * 0.62).text("-1");
  t.append("tspan").attr("dy", 9).text(")");
}
ytitle(51, 177, "Viremia", 26); ytitleUnits(82, 177, 26);
ov.append("text").attr("transform", "translate(707,177) rotate(-90)").attr("text-anchor", "middle")
  .attr("font-size", 29).attr("font-family", SERIF).attr("font-style", "italic").text("S");
ytitle(49, 580, "Set-point viral load", 25); ytitleUnits(80, 580, 25);
ytitle(489, 580, "Set-point viral load", 25); ytitleUnits(521, 580, 25);
ytitle(925, 578, "Fractions", 25);
function s28(cx) {
  const t = ov.append("text").attr("x", cx).attr("y", 759).attr("text-anchor", "middle").attr("font-family", SERIF);
  t.append("tspan").attr("font-style", "italic").attr("font-size", 28).text("S");
  t.append("tspan").attr("font-size", 18).attr("dy", 3).text("28");
}
s28(284); s28(721); s28(1137);
txt(758, 502, "ρ = -0.51", {"font-size": 25});
txt(758, 532, "p = 0.05", {"font-size": 25});
ov.append("line").attr("x1", 849).attr("x2", 906).attr("y1", 27).attr("y2", 27).attr("stroke", "#9a9a9a").attr("stroke-width", 4.5);
txt(917, 35, "Controllers", {"font-size": 23.5});
ov.append("line").attr("x1", 1071).attr("x2", 1128).attr("y1", 27).attr("y2", 27).attr("stroke", "#ff3030").attr("stroke-width", 4.5);
txt(1139, 35, "Progressors", {"font-size": 23.5});
ov.append("rect").attr("x", 947).attr("y", 418).attr("width", 32).attr("height", 23).attr("fill", "#d3d3d3");
txt(991, 437, "Controllers", {"font-size": 23.5});
ov.append("rect").attr("x", 1135).attr("y", 418).attr("width", 32).attr("height", 23).attr("fill", "#fbaaaa");
txt(1179, 437, "Progressors", {"font-size": 23.5});
root.appendChild(ov.node());
</script></body></html>
